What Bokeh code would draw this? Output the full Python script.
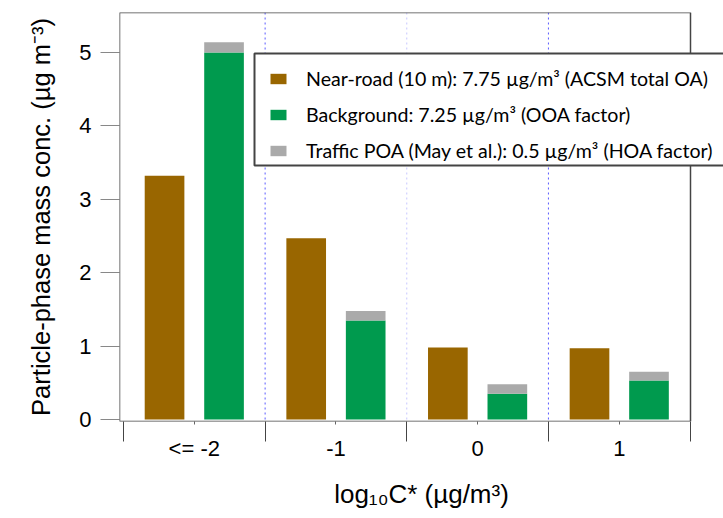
from bokeh.plotting import figure
from bokeh.models import (Range1d, FixedTicker, Span, Legend, LegendItem,
                          ColumnDataSource, BoxAnnotation)
from bokeh.transform import dodge
from bokeh.embed import file_html
from bokeh.resources import INLINE

# ---- data ----
categories = ["<= -2", "-1", "0", "1"]
near_road = [3.32, 2.47, 0.98, 0.97]        # Near-road (10 m), ACSM total OA
background = [5.00, 1.35, 0.35, 0.53]       # Background, OOA factor
traffic_poa = [0.14, 0.13, 0.13, 0.12]      # Traffic POA stacked on background
y_ticks = [0, 1, 2, 3, 4, 5]

legend_labels = [
    "Near-road (10 m): 7.75 \u00b5g/m\u00b3 (ACSM total OA)",
    "Background: 7.25 \u00b5g/m\u00b3 (OOA factor)",
    "Traffic POA (May et al.): 0.5 \u00b5g/m\u00b3 (HOA factor)",
]

# ---- derived positions ----
n = len(categories)
centers = [i + 0.5 for i in range(n)]
boundaries = [float(i) for i in range(n + 1)]

source = ColumnDataSource(dict(x=centers, near=near_road,
                               bg=background, poa=traffic_poa))

BROWN = "#996600"
GREEN = "#009A4E"
GRAY = "#AAAAAA"

X0, X1 = -0.028, n + 0.003          # drawn plot box (x)
Y0, Y1 = -0.027, 5.545              # drawn plot box (y)
px_per_x = 571.0 / (X1 - X0)
x_end = X1 + 33.0 / px_per_x        # frame runs on to the canvas edge (legend overflow)

p = figure(width=723, height=518, output_backend="svg", toolbar_location=None,
           x_range=Range1d(X0, x_end), y_range=Range1d(Y0, Y1),
           min_border_left=119, min_border_right=0, min_border_top=12,
           min_border_bottom=97)
p.grid.visible = False
p.outline_line_color = None
p.background_fill_color = "white"
p.border_fill_color = "white"

# separators between categories
sep_colors = ["#5a5aff", "#c8c8ff", "#5a5aff"]
for i, b in enumerate(boundaries[1:-1]):
    p.add_layout(Span(location=b, dimension="height", line_color=sep_colors[i % 3],
                      line_dash="2 3", line_width=1))

r_near = p.vbar(x=dodge("x", -0.21, range=p.x_range), top="near", width=0.28,
                source=source, fill_color=BROWN, line_color=None)
r_bg, r_poa = p.vbar_stack(["bg", "poa"], x=dodge("x", 0.21, range=p.x_range),
                           width=0.28, source=source,
                           fill_color=[GREEN, GRAY], line_color=None)

# plot box (R-style box around the data region)
p.add_layout(BoxAnnotation(left=X0, right=X1, bottom=Y0, top=Y1,
                           fill_alpha=0, line_color="#444444", line_alpha=1.0,
                           line_width=1.5))

# ---- y axis ----
yax = p.yaxis[0]
yax.ticker = FixedTicker(ticks=y_ticks)
yax.axis_line_color = None
yax.major_tick_out = 19
yax.major_tick_in = 0
yax.minor_tick_out = 0
yax.minor_tick_in = 0
yax.major_tick_line_color = "#888888"
yax.major_label_text_font = "Liberation Sans"
yax.major_label_text_font_size = "22px"
yax.major_label_text_color = "black"
yax.major_label_standoff = 9
yax.axis_label = "Particle-phase mass conc. (\u00b5g m\u207b\u00b3)"
yax.axis_label_text_font = "Liberation Sans"
yax.axis_label_text_font_size = "25.5px"
yax.axis_label_text_font_style = "normal"
yax.axis_label_text_color = "black"
yax.axis_label_standoff = 21

# ---- x axis ----
xax = p.xaxis[0]
xax.ticker = FixedTicker(ticks=centers, minor_ticks=boundaries)
xax.major_label_overrides = {c: lab for c, lab in zip(centers, categories)}
xax.axis_line_color = None
xax.major_tick_out = 3
xax.major_tick_in = 0
xax.minor_tick_out = 20
xax.minor_tick_in = 0
xax.major_tick_line_color = "#666666"
xax.minor_tick_line_color = "#444444"
xax.major_label_text_font = "Liberation Sans"
xax.major_label_text_font_size = "22px"
xax.major_label_text_color = "black"
xax.major_label_standoff = -6
xax.axis_label = "log\u2081\u2080C* (\u00b5g/m\u00b3)"
xax.axis_label_text_font = "Liberation Sans"
xax.axis_label_text_font_size = "26px"
xax.axis_label_text_font_style = "normal"
xax.axis_label_text_color = "black"
xax.axis_label_standoff = 15

# ---- legend: box drawn separately so that horizontal and vertical padding differ ----
py_per_y = 409.0 / (Y1 - Y0)
box_left = X0 + 135.0 / px_per_x
box_top = Y1 - 41.0 / py_per_y
box_bottom = Y1 - 153.0 / py_per_y
p.add_layout(BoxAnnotation(left=box_left, right=x_end + 1, bottom=box_bottom, top=box_top,
                           fill_color="white", fill_alpha=1.0,
                           line_color="#444444", line_alpha=1.0, line_width=2))

legend = Legend(items=[LegendItem(label=legend_labels[0], renderers=[r_near]),
                       LegendItem(label=legend_labels[1], renderers=[r_bg]),
                       LegendItem(label=legend_labels[2], renderers=[r_poa])],
                location=(149, 259), orientation="vertical")
legend.margin = 0
legend.padding = 18
legend.spacing = 13
legend.glyph_width = 20
legend.glyph_height = 13
legend.label_standoff = 18
legend.label_height = 23
legend.label_text_font = "Lato"
legend.label_text_font_size = "19.6px"
legend.label_text_color = "black"
legend.border_line_color = None
legend.background_fill_alpha = 0.0
p.add_layout(legend)

open("out.html", "w").write(file_html(p, INLINE))
